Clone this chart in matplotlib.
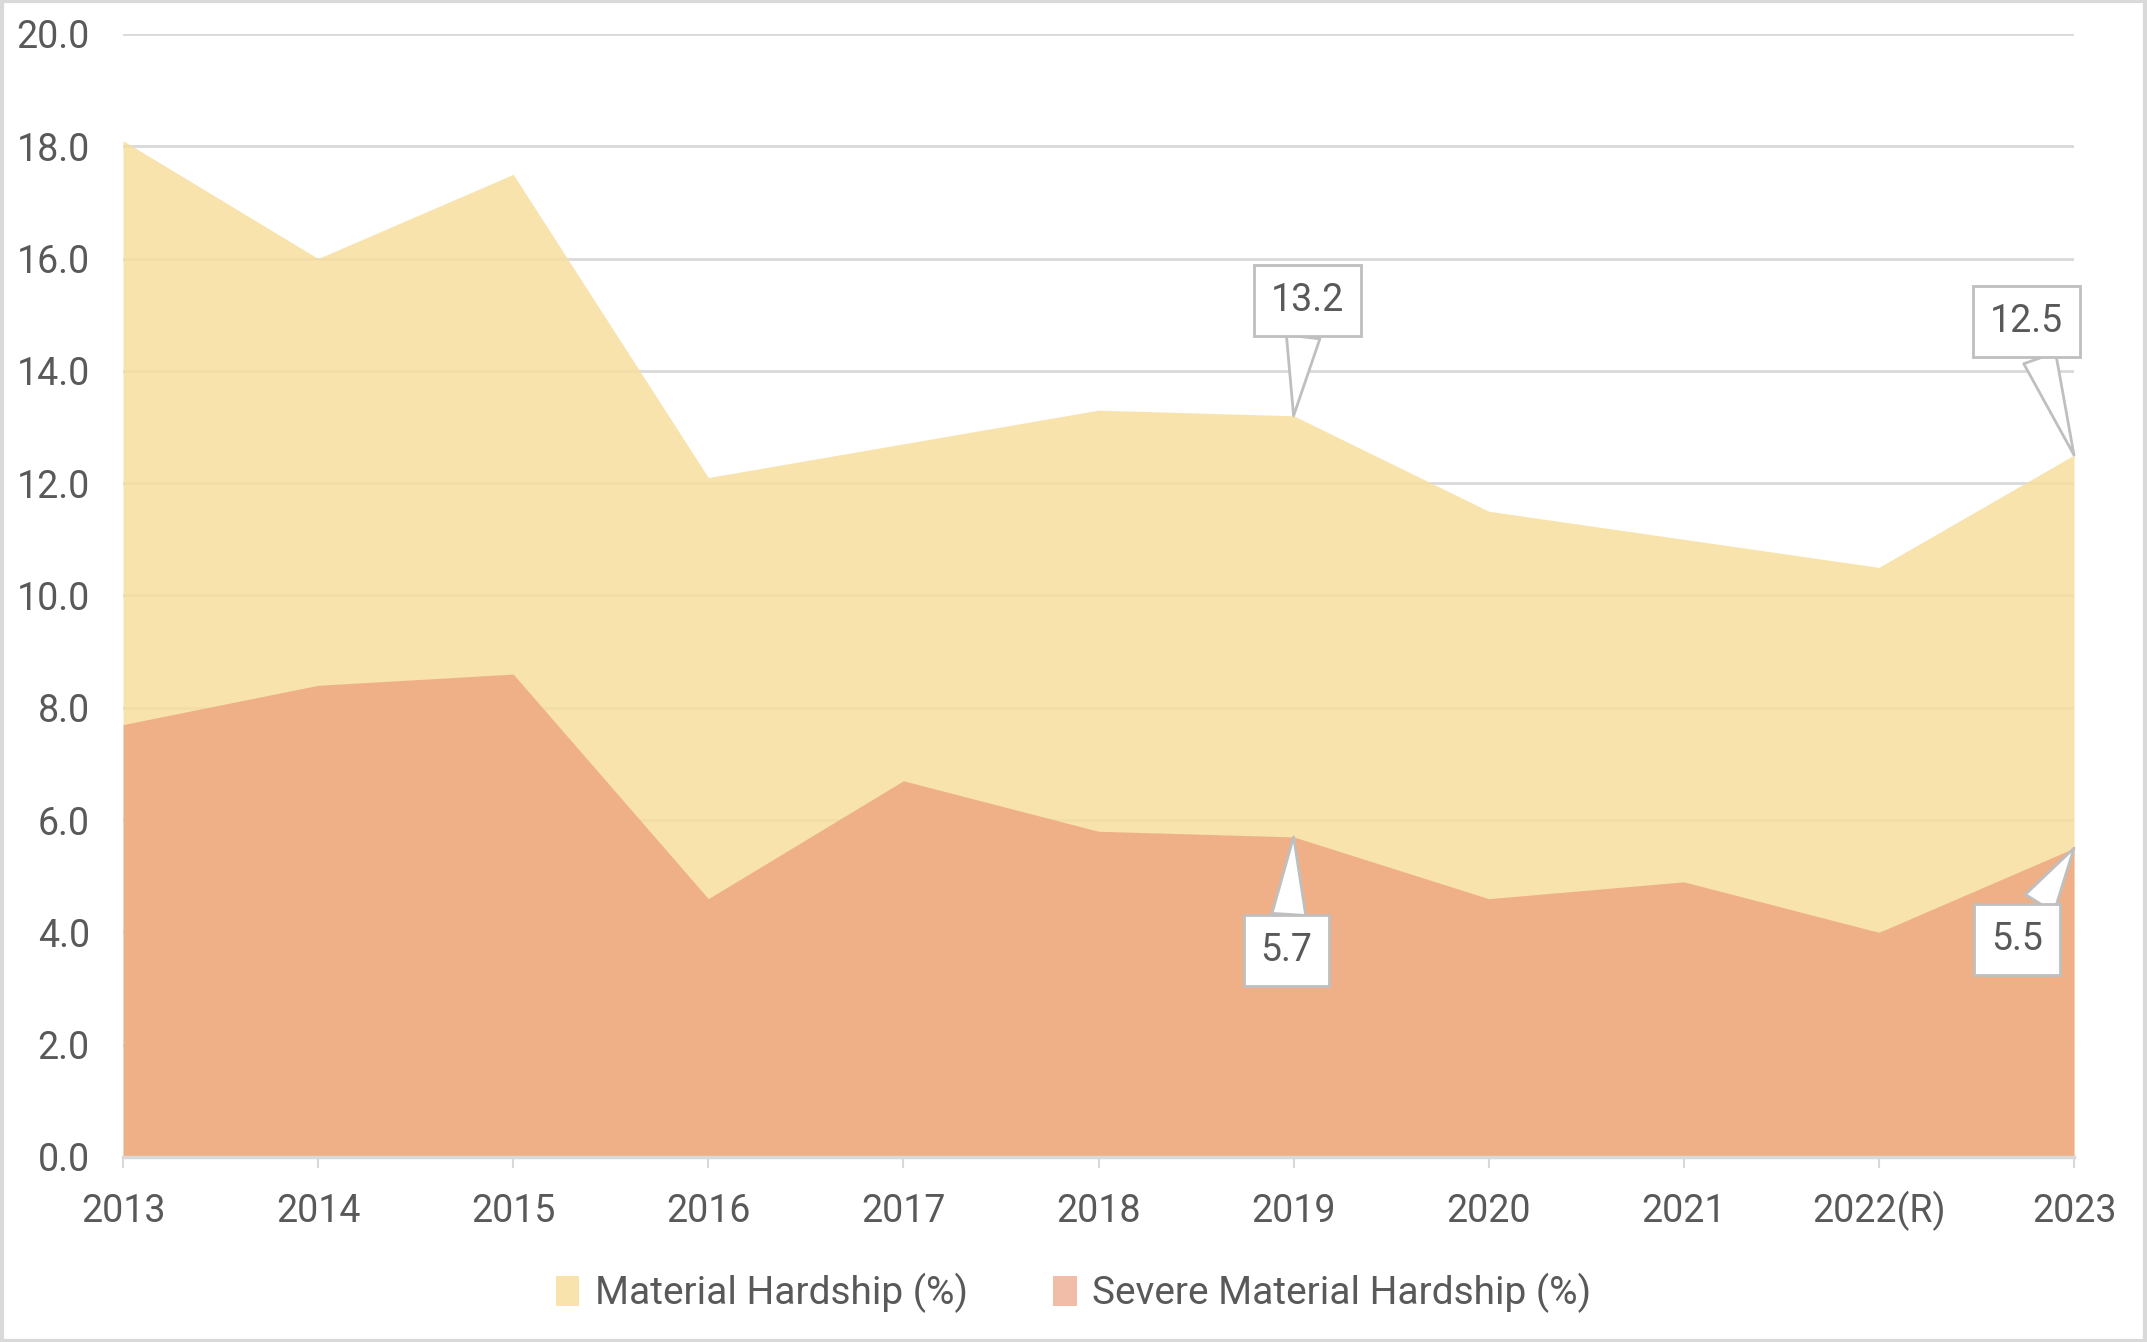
import matplotlib
matplotlib.use("Agg")
import matplotlib.pyplot as plt
from matplotlib.patches import Patch, Rectangle

years = ["2013", "2014", "2015", "2016", "2017", "2018", "2019", "2020", "2021", "2022(R)", "2023"]
material = [18.1, 16.0, 17.5, 12.1, 12.7, 13.3, 13.2, 11.5, 11.0, 10.5, 12.5]
severe = [7.7, 8.4, 8.6, 4.6, 6.7, 5.8, 5.7, 4.6, 4.9, 4.0, 5.5]
yticks = [0, 2, 4, 6, 8, 10, 12, 14, 16, 18, 20]

plt.rcParams['font.family'] = ['Roboto', 'DejaVu Sans']
TXT = '#595959'
GRID = '#D9D9D9'
FS = 27

fig = plt.figure(figsize=(21.47, 13.42), dpi=100)
ax = fig.add_axes([0.0573, 0.1379, 0.9087, 0.8368])

x = list(range(len(years)))
ax.fill_between(x, 0, material, color=(248/255, 222/255, 159/255), alpha=0.85, lw=0, zorder=2)
ax.fill_between(x, 0, severe, color=(238/255, 168/255, 130/255), alpha=0.85, lw=0, zorder=3)

ax.set_xlim(0, len(years) - 1)
ax.set_ylim(0, 20)
ax.set_yticks(yticks)
ax.set_yticklabels([f"{v:.1f}" for v in yticks])
ax.set_xticks(x)
ax.set_xticklabels(years, va='baseline')
ax.yaxis.grid(True, color=GRID, lw=2, zorder=1)
ax.set_axisbelow(True)
for s in ['top', 'right', 'left']:
    ax.spines[s].set_visible(False)
ax.spines['bottom'].set_color(GRID)
ax.spines['bottom'].set_linewidth(2.5)
ax.spines['bottom'].set_zorder(5)
ax.tick_params(axis='y', length=0, pad=24, labelsize=FS, labelcolor=TXT)
ax.tick_params(axis='x', length=8, width=1.5, color=GRID, pad=39, labelsize=FS, labelcolor=TXT)

def callout(i, val, dx, dy):
    ax.annotate(f"{val:.1f}", xy=(i, val), xytext=(dx, dy), textcoords='offset points',
                ha='center', va='center', fontsize=FS, color=TXT, zorder=10,
                bbox=dict(boxstyle='square,pad=0.45', fc='white', ec='#BFBFBF', lw=2),
                arrowprops=dict(arrowstyle='wedge,tail_width=0.9,shrink_factor=0.5',
                                fc='white', ec='#BFBFBF', lw=2, shrinkA=0, shrinkB=0),
                annotation_clip=False)

callout(6, material[6], 10, 83)
callout(10, material[10], -34, 96)
callout(6, severe[6], -5, -82)
callout(10, severe[10], -41, -66)

handles = [Patch(facecolor='#F9E3AD', edgecolor='none', label='Material Hardship (%)'),
           Patch(facecolor='#F2BDA8', edgecolor='none', label='Severe Material Hardship (%)')]
fig.legend(handles=handles, loc='center', bbox_to_anchor=(0.5, 1 - 1293/1342), ncol=2,
           frameon=False, fontsize=28, labelcolor=TXT, handlelength=0.6, handleheight=0.8,
           handletextpad=0.4, columnspacing=2.2)

fig.patches.append(Rectangle((0.001, 0.001), 0.998, 0.998, transform=fig.transFigure,
                             fill=False, ec=GRID, lw=3))

fig.savefig("out.png", dpi=100)
